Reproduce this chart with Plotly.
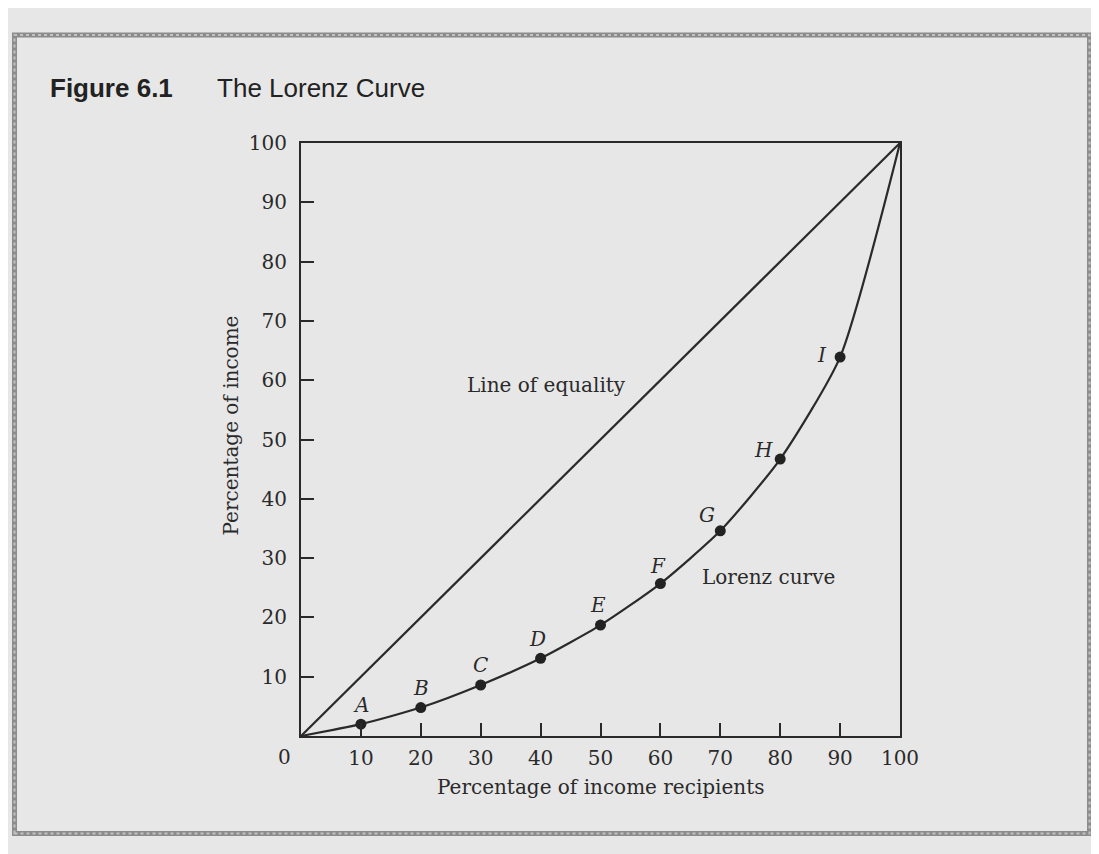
import plotly.graph_objects as go

# ---- data ----
recipients = [0, 10, 20, 30, 40, 50, 60, 70, 80, 90, 100]
income_share = [0, 2.0, 4.8, 8.6, 13.1, 18.7, 25.7, 34.6, 46.7, 63.9, 100]
point_names = ["", "A", "B", "C", "D", "E", "F", "G", "H", "I", ""]
equality_x = [0, 100]
equality_y = [0, 100]
tick_vals = [10, 20, 30, 40, 50, 60, 70, 80, 90, 100]
tick_text = ["10", "20", "30", "40", "50", "60", "70", "80", "90", "100"]

# ---- styling ----
INK = "#2a2a2a"
SERIF = "DejaVu Serif"
BG = "#e7e7e7"
# label pixel offsets (dx, dy) relative to each point
label_offsets = [(0, 0), (0, 19), (0, 20), (0, 20), (-3, 19), (-3, 20),
                 (-2, 18), (-13, 16), (-17, 9), (-18, 2), (0, 0)]

fig = go.Figure()

fig.add_trace(go.Scatter(
    x=equality_x, y=equality_y, mode="lines",
    line=dict(color=INK, width=2.2), hoverinfo="skip", showlegend=False))

fig.add_trace(go.Scatter(
    x=recipients, y=income_share, mode="lines",
    line=dict(color=INK, width=2.2, shape="spline", smoothing=0.6),
    hoverinfo="skip", showlegend=False))

fig.add_trace(go.Scatter(
    x=recipients[1:-1], y=income_share[1:-1], mode="markers",
    marker=dict(color="#222222", size=11), hoverinfo="skip", showlegend=False))

annotations = []
for xv, yv, name, (dx, dy) in zip(recipients, income_share, point_names, label_offsets):
    if not name:
        continue
    annotations.append(dict(
        x=xv, y=yv, xref="x", yref="y", text=f"<i>{name}</i>", showarrow=False,
        xshift=dx, yshift=dy, font=dict(family=SERIF, size=20, color=INK)))

annotations += [
    dict(x=41, y=59.2, xref="x", yref="y", text="Line of equality", showarrow=False,
         font=dict(family=SERIF, size=20, color=INK)),
    dict(x=78, y=26.8, xref="x", yref="y", text="Lorenz curve", showarrow=False,
         font=dict(family=SERIF, size=20, color=INK)),
    dict(x=0, y=0, xref="x", yref="y", text="0", showarrow=False,
         xanchor="center", yanchor="middle",
         xshift=-17, yshift=-21, font=dict(family=SERIF, size=20, color=INK)),
    dict(x=50, y=0, xref="x", yref="paper", text="Percentage of income recipients",
         showarrow=False, xanchor="center", yanchor="middle", yshift=-51,
         font=dict(family=SERIF, size=20, color=INK)),
    dict(x=0, y=50, xref="paper", yref="y", text="Percentage of income",
         showarrow=False, textangle=-90, xanchor="center", yanchor="middle",
         xshift=-71, yshift=14,
         font=dict(family=SERIF, size=20, color=INK)),
]

# page frame (scanned figure border); page body has an 8px offset
W, H = 1099, 854
L, R, T, B = 293, 207, 135, 126
pw, ph = W - L - R, H - T - B


def px(xp):
    return (xp - L) / pw


def py(yp):
    return (H - B - yp) / ph


shapes = [
    dict(type="rect", xref="paper", yref="paper", x0=px(6.5), x1=px(1081.5),
         y0=py(825.5), y1=py(27), line=dict(color="#8c8c8c", width=5)),
    dict(type="rect", xref="paper", yref="paper", x0=px(6.5), x1=px(1081.5),
         y0=py(825.5), y1=py(27), line=dict(color="#c2c2c2", width=2, dash="dot")),
]

fig.update_layout(
    width=W, height=H,
    margin=dict(l=L, r=R, t=T, b=B, pad=0),
    paper_bgcolor=BG, plot_bgcolor=BG,
    annotations=annotations, shapes=shapes,
    title=dict(
        text="<b>Figure 6.1</b>\u2003\u2002\u2009The Lorenz Curve",
        x=42 / W, xanchor="left", xref="container",
        y=1 - 80 / H, yanchor="middle", yref="container",
        font=dict(family="Liberation Sans", size=26, color="#222222")),
)

fig.update_xaxes(
    range=[0, 100], tickvals=tick_vals, ticktext=tick_text,
    showgrid=False, zeroline=False, showline=True, linecolor=INK, linewidth=2,
    mirror=True, ticks="inside", ticklen=13, tickwidth=2, tickcolor=INK,
    tickfont=dict(family=SERIF, size=20, color=INK), ticklabelstandoff=3)
fig.update_yaxes(
    range=[0, 100], tickvals=tick_vals, ticktext=tick_text,
    showgrid=False, zeroline=False, showline=True, linecolor=INK, linewidth=2,
    mirror=True, ticks="inside", ticklen=13, tickwidth=2, tickcolor=INK,
    tickfont=dict(family=SERIF, size=20, color=INK), ticklabelstandoff=8)

fig.write_html("out.html")
